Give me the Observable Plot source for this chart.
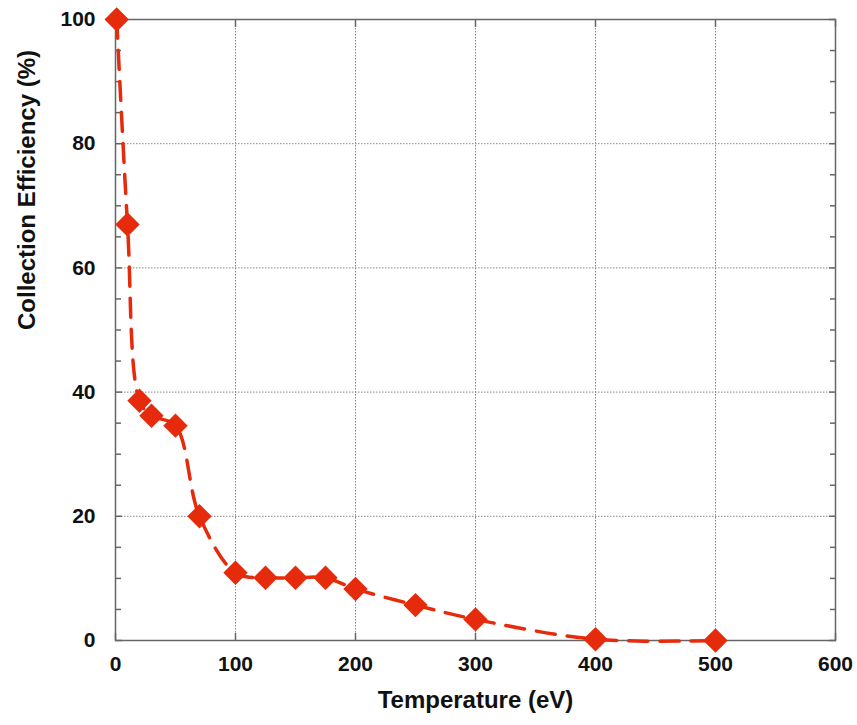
<!DOCTYPE html>
<html>
<head>
<meta charset="utf-8">
<script src="https://cdn.jsdelivr.net/npm/d3@7"></script>
<script src="https://cdn.jsdelivr.net/npm/@observablehq/plot@0.6"></script>
<style>
  html, body { margin: 0; padding: 0; background: #fff; }
</style>
</head>
<body>
<div id="chart"></div>
<script>
// Data
const temperature = [1, 10, 20, 30, 50, 70, 100, 125, 150, 175, 200, 250, 300, 400, 500];
const efficiency  = [100, 67, 38.6, 36.2, 34.6, 20.0, 10.9, 10.1, 10.1, 10.1, 8.3, 5.7, 3.4, 0.2, 0];
const xTicks = [0, 100, 200, 300, 400, 500, 600];
const yTicks = [0, 20, 40, 60, 80, 100];
const yMinorTicks = [5, 10, 15, 25, 30, 35, 45, 50, 55, 65, 70, 75, 85, 90, 95];
const xTitle = "Temperature (eV)";
const yTitle = "Collection Efficiency (%)";

const data = temperature.map((t, i) => ({t, e: efficiency[i]}));
const red = "#e62a0c";
const axisGray = "#666";
const noLabel = () => "";

const chart = Plot.plot({
  width: 857,
  height: 725,
  marginLeft: 115,
  marginRight: 22,
  marginTop: 19,
  marginBottom: 85,
  style: {fontFamily: "'Liberation Sans', Arial, sans-serif", fontWeight: "bold", fontSize: "21px", color: "#111", background: "#fff"},
  x: {domain: [0, 600], label: null},
  y: {domain: [0, 100], label: null},
  marks: [
    Plot.gridX(xTicks.slice(1, -1), {stroke: "#888", strokeOpacity: 1, strokeDasharray: "1.5,1.5", strokeWidth: 1}),
    Plot.gridY(yTicks.slice(1, -1), {stroke: "#888", strokeOpacity: 1, strokeDasharray: "1.5,1.5", strokeWidth: 1}),
    Plot.axisX(xTicks, {anchor: "bottom", tickSize: -7, tickPadding: 23, stroke: axisGray, strokeWidth: 1.5, label: null}),
    Plot.axisX(xTicks, {anchor: "top", tickSize: -7, tickFormat: noLabel, stroke: axisGray, strokeWidth: 1.5, label: null}),
    Plot.axisY(yTicks, {anchor: "left", tickSize: -7, tickPadding: 27, stroke: axisGray, strokeWidth: 1.5, label: null}),
    Plot.axisY(yTicks, {anchor: "right", tickSize: -7, tickFormat: noLabel, stroke: axisGray, strokeWidth: 1.5, label: null}),
    Plot.axisY(yMinorTicks, {anchor: "left", tickSize: -6, tickFormat: noLabel, stroke: axisGray, strokeWidth: 1.5, label: null}),
    Plot.axisY(yMinorTicks, {anchor: "right", tickSize: -6, tickFormat: noLabel, stroke: axisGray, strokeWidth: 1.5, label: null}),
    Plot.frame({stroke: axisGray, strokeWidth: 1.5}),
    Plot.line(data, {x: "t", y: "e", curve: "catmull-rom", stroke: red, strokeWidth: 3.5, strokeDasharray: "19,12"}),
    Plot.dot(data, {x: "t", y: "e", symbol: "diamond2", r: 11, fill: red, stroke: "none"}),
    Plot.text([xTitle], {text: d => d, frameAnchor: "bottom", dy: 67, fontSize: 24, fontWeight: "bold", fill: "#111"}),
    Plot.text([yTitle], {text: d => d, frameAnchor: "left", dx: -88, rotate: -90, fontSize: 24, fontWeight: "bold", fill: "#111"})
  ]
});
document.getElementById("chart").appendChild(chart);
</script>
</body>
</html>
